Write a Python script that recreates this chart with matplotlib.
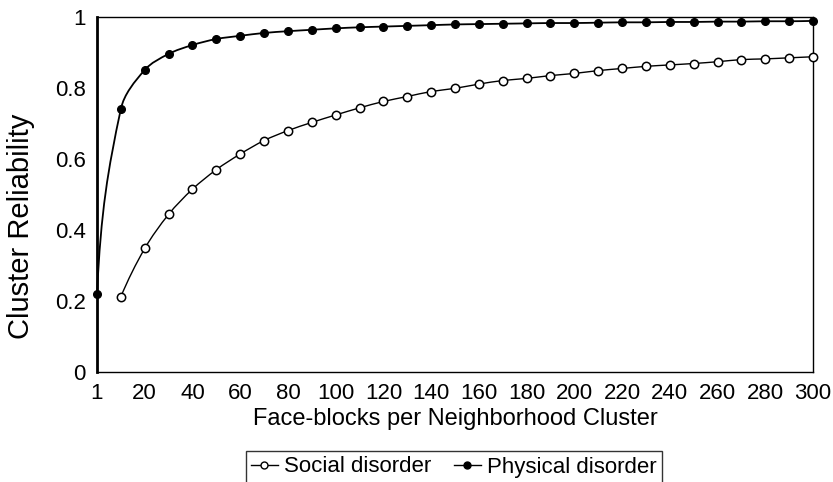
import numpy as np
import matplotlib
matplotlib.use("Agg")
import matplotlib.pyplot as plt
from matplotlib.path import Path
from matplotlib.patches import PathPatch
from matplotlib.lines import Line2D

plt.rcParams['font.family'] = ['Liberation Sans', 'DejaVu Sans']

# ---- data ----
categories = [1, 10, 20, 30, 40, 50, 60, 70, 80, 90, 100, 110, 120, 130, 140, 150,
              160, 170, 180, 190, 200, 210, 220, 230, 240, 250, 260, 270, 280, 290, 300]
physical = [0.220, 0.741, 0.851, 0.896, 0.921, 0.938, 0.947, 0.955, 0.960, 0.964,
            0.968, 0.971, 0.973, 0.975, 0.977, 0.979, 0.980, 0.981, 0.982, 0.983,
            0.983, 0.984, 0.985, 0.985, 0.986, 0.986, 0.987, 0.987, 0.988, 0.988, 0.989]
social_categories = categories[1:]
social = [0.212, 0.348, 0.444, 0.515, 0.570, 0.614, 0.652, 0.680, 0.703, 0.724,
          0.744, 0.762, 0.776, 0.790, 0.799, 0.811, 0.821, 0.827, 0.835, 0.841,
          0.849, 0.855, 0.861, 0.865, 0.869, 0.874, 0.880, 0.882, 0.885, 0.888]
tick_labels = ["1", "20", "40", "60", "80", "100", "120", "140", "160", "180", "200",
               "220", "240", "260", "280", "300"]
y_ticks = [0, 0.2, 0.4, 0.6, 0.8, 1]
y_tick_labels = ["0", "0.2", "0.4", "0.6", "0.8", "1"]

FS = 16

W, H = 833, 482
fig = plt.figure(figsize=(W / 100, H / 100), dpi=100)
ax = fig.add_axes([97 / W, 1 - 372 / H, (813 - 97) / W, (372 - 17) / H])

cat_pos = {c: i for i, c in enumerate(categories)}
xp = np.array([cat_pos[c] for c in categories], dtype=float)
xs = np.array([cat_pos[c] for c in social_categories], dtype=float)

ax.set_xlim(0, len(categories) - 1)
ax.set_ylim(0, 1)


def smooth_line(ax, x, y, lw, color, start_k=1 / 3):
    """Draw a smooth (Bezier) line through the data points, in display space."""
    pts = ax.transData.transform(np.column_stack([x, y]))
    n = len(pts)
    d = np.linalg.norm(np.diff(pts, axis=0), axis=1)
    T = np.zeros_like(pts)
    for i in range(1, n - 1):
        v = pts[i + 1] - pts[i - 1]
        T[i] = v / np.linalg.norm(v)
    u0 = (pts[1] - pts[0]) / d[0]
    t0 = 2 * u0 - T[1]
    T[0] = t0 / np.linalg.norm(t0)
    un = (pts[-1] - pts[-2]) / d[-1]
    tn = 2 * un - T[-2]
    T[-1] = tn / np.linalg.norm(tn)
    verts = [pts[0]]
    codes = [Path.MOVETO]
    for i in range(n - 1):
        k = start_k if i == 0 else 1 / 3
        c1 = pts[i] + T[i] * d[i] * k
        c2 = pts[i + 1] - T[i + 1] * d[i] / 3
        verts += [c1, c2, pts[i + 1]]
        codes += [Path.CURVE4] * 3
    verts = ax.transData.inverted().transform(np.array(verts))
    patch = PathPatch(Path(verts, codes), facecolor='none', edgecolor=color,
                      lw=lw, transform=ax.transData, clip_on=False)
    ax.add_patch(patch)


smooth_line(ax, xp, physical, 1.3, 'black', start_k=0.45)
smooth_line(ax, xs, social, 1.0, 'black')
ax.plot(xp, physical, linestyle='none', marker='o', ms=5.5, color='black',
        mfc='black', clip_on=False, zorder=5)
ax.plot(xs, social, linestyle='none', marker='o', ms=6, color='black',
        mfc='white', mew=1.1, clip_on=False, zorder=5)

ax.set_xticks(xp[::2])
ax.set_xticklabels(tick_labels)
ax.set_yticks(y_ticks)
ax.set_yticklabels(y_tick_labels)
ax.tick_params(axis='both', length=0, labelsize=FS)
ax.tick_params(axis='x', pad=8)
ax.tick_params(axis='y', pad=8)

for s in ['top', 'right', 'bottom']:
    ax.spines[s].set_linewidth(1.0)
ax.spines['left'].set_linewidth(2.0)

fig.text(21 / W, 1 - 226 / H, "Cluster Reliability", rotation=90,
         ha='center', va='center', fontsize=21)
fig.text(455 / W, 1 - 419 / H, "Face-blocks per Neighborhood Cluster",
         ha='center', va='center', fontsize=17)

h1 = Line2D([], [], color='black', lw=1.0, marker='o', ms=5, mfc='white', mew=1.0)
h2 = Line2D([], [], color='black', lw=1.0, marker='o', ms=5, mfc='black')
leg = fig.legend([h1, h2], ["Social disorder", "Physical disorder"], ncol=2,
                 loc='center', bbox_to_anchor=(454 / W, 1 - 467 / H),
                 fontsize=FS, frameon=True, fancybox=False, edgecolor='black',
                 handlelength=1.2, handletextpad=0.3, columnspacing=1.0,
                 borderpad=0.25, borderaxespad=0)
leg.get_frame().set_linewidth(1.0)

fig.savefig("out.png", dpi=100)
